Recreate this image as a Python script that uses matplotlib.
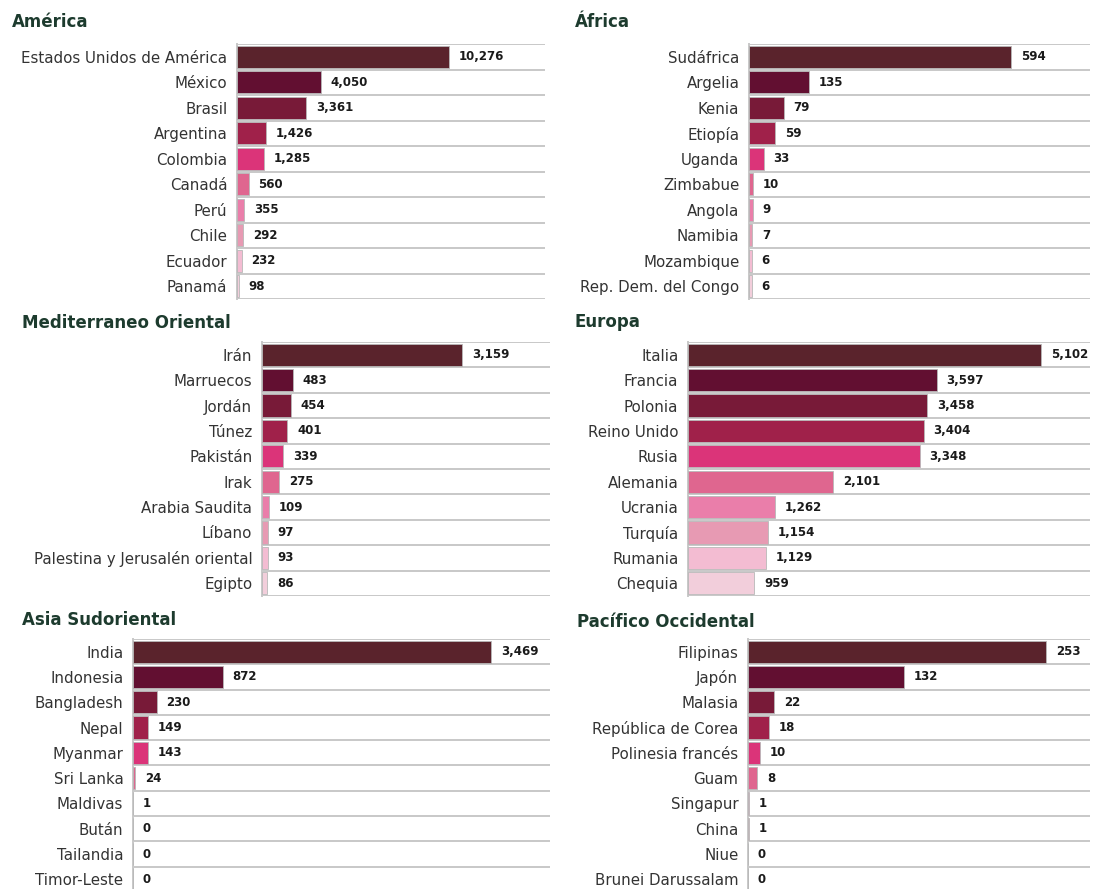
import matplotlib.pyplot as plt

# --- Datos por región ---
america_paises = ["Estados Unidos de América", "México", "Brasil", "Argentina", "Colombia",
                  "Canadá", "Perú", "Chile", "Ecuador", "Panamá"]
america_casos = [10276, 4050, 3361, 1426, 1285, 560, 355, 292, 232, 98]

africa_paises = ["Sudáfrica", "Argelia", "Kenia", "Etiopía", "Uganda", "Zimbabue",
                 "Angola", "Namibia", "Mozambique", "Rep. Dem. del Congo"]
africa_casos = [594, 135, 79, 59, 33, 10, 9, 7, 6, 6]

med_paises = ["Irán", "Marruecos", "Jordán", "Túnez", "Pakistán", "Irak", "Arabia Saudita",
              "Líbano", "Palestina y Jerusalén oriental", "Egipto"]
med_casos = [3159, 483, 454, 401, 339, 275, 109, 97, 93, 86]

europa_paises = ["Italia", "Francia", "Polonia", "Reino Unido", "Rusia", "Alemania",
                 "Ucrania", "Turquía", "Rumania", "Chequia"]
europa_casos = [5102, 3597, 3458, 3404, 3348, 2101, 1262, 1154, 1129, 959]

asia_paises = ["India", "Indonesia", "Bangladesh", "Nepal", "Myanmar", "Sri Lanka",
               "Maldivas", "Bután", "Tailandia", "Timor-Leste"]
asia_casos = [3469, 872, 230, 149, 143, 24, 1, 0, 0, 0]

pacifico_paises = ["Filipinas", "Japón", "Malasia", "República de Corea", "Polinesia francés",
                   "Guam", "Singapur", "China", "Niue", "Brunei Darussalam"]
pacifico_casos = [253, 132, 22, 18, 10, 8, 1, 1, 0, 0]

# colores por posición (1..10)
COLORES = ["#5a232c", "#620f31", "#781a38", "#a0214a", "#db3479",
           "#df668f", "#ea7eaa", "#e79ab3", "#f3bcd2", "#f2cedb"]
TITULO_COLOR = "#1d3b2e"
GRIS = "#c8c8c8"

W, H = 1093, 889
fig = plt.figure(figsize=(W / 100, H / 100), dpi=100)
plt.rcParams['font.family'] = ['DejaVu Sans']

# (titulo, paises, casos, x_izq, x_der, y_arriba, y_abajo, x_titulo, y_titulo, xmax)
paneles = [
    ("América", america_paises, america_casos, 237, 545, 44, 299, 12, 22, 14930),
    ("África", africa_paises, africa_casos, 749, 1090, 44, 299, 575, 22, 773),
    ("Mediterraneo Oriental", med_paises, med_casos, 262, 550, 342, 596, 22, 323, 4549),
    ("Europa", europa_paises, europa_casos, 688, 1090, 342, 596, 575, 322, 5810),
    ("Asia Sudoriental", asia_paises, asia_casos, 133, 550, 639, 892, 22, 620, 4041),
    ("Pacífico Occidental", pacifico_paises, pacifico_casos, 748, 1090, 639, 892, 577, 622, 290),
]

for titulo, paises, casos, xl, xr, yt, yb, xt, yt_txt, xmax in paneles:
    ax = fig.add_axes([xl / W, 1 - yb / H, (xr - xl) / W, (yb - yt) / H])
    n = len(paises)
    y = list(range(n))
    ax.barh(y, casos, height=0.88, color=COLORES[:n], edgecolor="#b8b8b8",
            linewidth=0.6, zorder=3)
    for yi, v in zip(y, casos):
        ax.annotate(f"{v:,}", (v, yi), xytext=(7, 0), textcoords="offset points",
                    va="center", ha="left", fontsize=8.5, fontweight="bold",
                    color="#1a1a1a")
    ax.set_ylim(n - 0.5, -0.5)
    ax.set_xlim(0, xmax)
    ax.set_yticks(y)
    ax.set_yticklabels(paises, fontsize=10.8, color="#333333")
    ax.tick_params(axis="y", length=0, pad=7)
    ax.set_xticks([])
    for b in range(n + 1):
        ax.axhline(b - 0.5, color=GRIS, linewidth=1.4, zorder=1)
    for s in ["top", "right", "bottom"]:
        ax.spines[s].set_visible(False)
    ax.spines["left"].set_color(GRIS)
    ax.spines["left"].set_linewidth(1.4)
    fig.text(xt / W, 1 - yt_txt / H, titulo, fontsize=12, fontweight="bold",
             color=TITULO_COLOR, ha="left", va="center")

fig.savefig("out.png", dpi=100)
